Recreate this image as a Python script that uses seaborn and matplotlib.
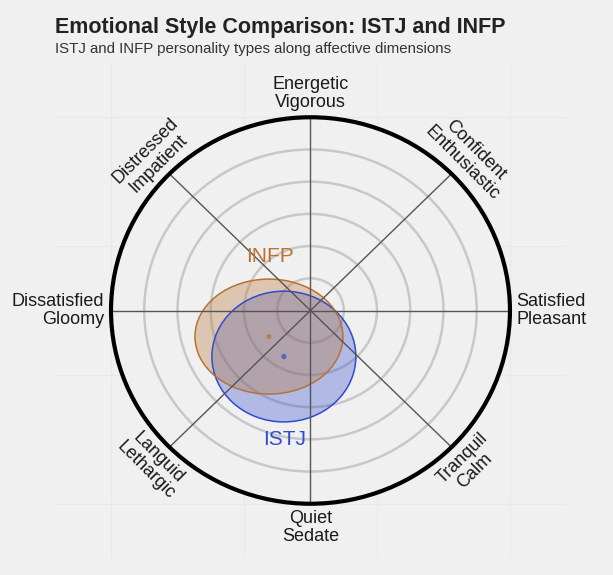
import numpy as np
import pandas as pd
import matplotlib
matplotlib.use('Agg')
import matplotlib.pyplot as plt
from matplotlib.patches import Ellipse, Circle
import seaborn as sns

# personality types and their position on the affect circle
types = ['ISTJ', 'INFP']
center_x = [-0.80, -1.25]
center_y = [-1.43, -0.81]
spread_x = [4.33, 4.45]
spread_y = [4.06, 3.57]
type_colors = ['#2e4ccc', '#b87333']

# affective dimensions around the circle
dim_labels = ['Satisfied\nPleasant', 'Confident\nEnthusiastic',
              'Energetic\nVigorous', 'Distressed\nImpatient',
              'Dissatisfied\nGloomy', 'Languid\nLethargic',
              'Quiet\nSedate', 'Tranquil\nCalm']
dim_angles = [0, 45, 90, 135, 180, 225, 270, 315]
ring_levels = [1, 2, 3, 4, 5]
outer_radius = 6

bg = '#f0f0f0'
sns.set_theme(style='whitegrid')
plt.rcParams['font.family'] = ['Liberation Sans', 'DejaVu Sans']

fig = plt.figure(figsize=(6.13, 5.75), dpi=100, facecolor=bg)
ax = fig.add_axes([0.0889, 0.0287, 0.8352, 0.8626])
ax.set_facecolor(bg)
ax.set_xlim(-7.7, 7.7)
ax.set_ylim(-7.7, 7.7)
ax.set_xticks([-6, -2, 2, 6])
ax.set_yticks([-6, -2, 2, 6])
ax.tick_params(length=0, labelbottom=False, labelleft=False)
ax.grid(True, color='#e8e8e8', linewidth=0.8)
for s in ax.spines.values():
    s.set_visible(False)

# plain disc so the background grid does not show inside the circle
ax.add_patch(Circle((0, 0), outer_radius, facecolor=bg, edgecolor='none',
                    zorder=1))
for r in ring_levels:
    ax.add_patch(Circle((0, 0), r, facecolor='none', edgecolor='#c8c8c8',
                        linewidth=1.8, zorder=2))

# ellipses for each type
for i, t in enumerate(types):
    ax.add_patch(Ellipse((center_x[i], center_y[i]), spread_x[i],
                         spread_y[i], facecolor=type_colors[i],
                         alpha=0.33, edgecolor='none', zorder=3))
    ax.add_patch(Ellipse((center_x[i], center_y[i]), spread_x[i],
                         spread_y[i], facecolor='none',
                         edgecolor=type_colors[i], linewidth=1.1, zorder=4))
    if t == 'INFP':
        ly = center_y[i] + spread_y[i] / 2 + 0.7
    else:
        ly = center_y[i] - spread_y[i] / 2 - 0.56
    ax.text(center_x[i] + 0.03, ly, t, color=type_colors[i], fontsize=15,
            ha='center', va='center', zorder=6)

df = pd.DataFrame({'type': types, 'x': center_x, 'y': center_y})
sns.scatterplot(data=df, x='x', y='y', hue='type',
                palette=dict(zip(types, type_colors)), s=14, alpha=0.7,
                linewidth=0, legend=False, ax=ax, zorder=6)
ax.set_xlabel('')
ax.set_ylabel('')

# spokes
for a in dim_angles:
    th = np.deg2rad(a)
    ax.plot([0, outer_radius * np.cos(th)], [0, outer_radius * np.sin(th)],
            color='#555555', linewidth=1, zorder=5)

ax.add_patch(Circle((0, 0), outer_radius, facecolor='none',
                    edgecolor='black', linewidth=3, zorder=7))

# dimension labels
label_r = 6.2
for lab, a in zip(dim_labels, dim_angles):
    th = np.deg2rad(a)
    x, y = label_r * np.cos(th), label_r * np.sin(th)
    kw = dict(fontsize=13, color='#1a1a1a', linespacing=1.1,
              rotation_mode='anchor')
    if a == 0:
        ax.text(x, y, lab, ha='left', va='center', **kw)
    elif a == 180:
        ax.text(x, y, lab, ha='right', va='center', **kw)
    elif a == 90:
        ax.text(x, y, lab, ha='center', va='bottom', **kw)
    elif a == 270:
        ax.text(x, y, lab, ha='center', va='top', **kw)
    elif a in (45, 225):
        ax.text(x, y, lab, ha='center', va='bottom' if a == 45 else 'top',
                rotation=-45, **kw)
    else:
        ax.text(x, y, lab, ha='center', va='bottom' if a == 135 else 'top',
                rotation=45, **kw)

fig.text(55 / 613, 1 - 33 / 575, 'Emotional Style Comparison: ISTJ and INFP',
         fontsize=15.5, fontweight='bold', color='#222222', va='baseline')
fig.text(55 / 613, 1 - 52.5 / 575,
         'ISTJ and INFP personality types along affective dimensions',
         fontsize=10.8, color='#333333', va='baseline')

fig.savefig('out.png', dpi=100, facecolor=bg)
